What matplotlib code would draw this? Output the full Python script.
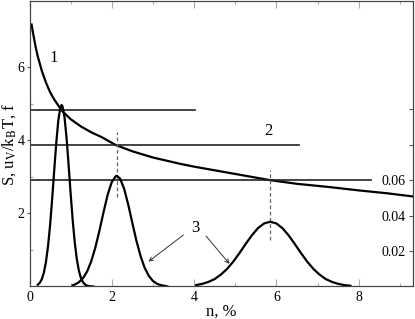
import numpy as np
import matplotlib
matplotlib.use('Agg')
import matplotlib.pyplot as plt
from matplotlib.ticker import FixedLocator

plt.rcParams['font.family'] = 'serif'
plt.rcParams['font.serif'] = ['Liberation Serif', 'DejaVu Serif']
plt.rcParams['mathtext.fontset'] = 'stix'

# curve 1: S(n)
s_n = [0.05, 0.1, 0.15, 0.2, 0.3, 0.4, 0.5, 0.6, 0.78, 1.0, 1.25, 1.5, 1.75,
       2.1, 2.5, 3.0, 3.65, 4.0, 4.7, 5.0, 5.85, 6.5, 7.3, 8.0, 8.7, 9.35]
s_val = [7.17, 6.85, 6.55, 6.30, 5.90, 5.58, 5.32, 5.12, 4.82, 4.58, 4.38, 4.22, 4.09,
         3.87, 3.70, 3.53, 3.36, 3.28, 3.14, 3.08, 2.91, 2.81, 2.72, 2.63, 2.55, 2.46]

# lines 2: u_V/k_BT levels and where they end
u_levels = [4.82, 3.87, 2.91]
u_ends = [4.02, 6.54, 8.29]

# dashed markers at the peaks
mark_n = [2.12, 5.85]
mark_lo = [2.46, 1.28]
mark_hi = [4.23, 3.18]

# curves 3: distributions f(n), right axis
f1_n = [0.20, 0.25, 0.30, 0.35, 0.40, 0.45, 0.50, 0.55, 0.60, 0.65, 0.70, 0.75, 0.78,
        0.80, 0.85, 0.90, 0.95, 1.00, 1.05, 1.10, 1.15, 1.20, 1.25, 1.30, 1.35, 1.40,
        1.45, 1.50, 1.55]
f1_val = [0.0010, 0.0021, 0.0042, 0.0079, 0.0139, 0.0227, 0.0346, 0.0493, 0.0654,
          0.0811, 0.0938, 0.1012, 0.1025, 0.1019, 0.0958, 0.0840, 0.0687, 0.0524,
          0.0373, 0.0248, 0.0154, 0.0089, 0.0048, 0.0024, 0.0011, 0.0005, 0.0002,
          0.0001, 0.0]

f2_n = [1.05, 1.10, 1.20, 1.30, 1.40, 1.50, 1.60, 1.70, 1.80, 1.90, 2.00, 2.10, 2.12,
        2.20, 2.30, 2.40, 2.50, 2.60, 2.70, 2.80, 2.90, 3.00, 3.10, 3.20, 3.30, 3.35]
f2_val = [0.0007, 0.0011, 0.0024, 0.0047, 0.0085, 0.0142, 0.0220, 0.0316, 0.0421,
          0.0519, 0.0591, 0.0624, 0.0625, 0.0610, 0.0552, 0.0462, 0.0358, 0.0257,
          0.0171, 0.0105, 0.0060, 0.0031, 0.0015, 0.0007, 0.0003, 0.0]

f3_n = [4.05, 4.20, 4.35, 4.50, 4.65, 4.80, 4.95, 5.10, 5.25, 5.40, 5.55, 5.70, 5.85,
        6.00, 6.15, 6.30, 6.45, 6.60, 6.75, 6.90, 7.05, 7.20, 7.35, 7.50, 7.65, 7.80]
f3_val = [0.0008, 0.0015, 0.0026, 0.0042, 0.0067, 0.0099, 0.0140, 0.0188, 0.0239,
          0.0288, 0.0329, 0.0356, 0.0366, 0.0356, 0.0329, 0.0288, 0.0239, 0.0188,
          0.0140, 0.0099, 0.0067, 0.0042, 0.0026, 0.0015, 0.0008, 0.0004]

fig = plt.figure(figsize=(4.15, 3.19), dpi=100)
ax = fig.add_axes([0.0711, 0.1019, 0.9241, 0.8934])
ax2 = ax.twinx()

ax.plot(s_n, s_val, color='black', lw=1.6)
for lev, end in zip(u_levels, u_ends):
    ax.plot([0, end], [lev, lev], color='#222222', lw=1.2)
for xn, lo, hi in zip(mark_n, mark_lo, mark_hi):
    ax.plot([xn, xn], [lo, hi], color='#666666', lw=0.9, dashes=(3, 2))

for fn, fv in [(f1_n, f1_val), (f2_n, f2_val), (f3_n, f3_val)]:
    ax2.plot(fn, fv, color='black', lw=1.6)

ax.text(0.58, 6.24, '1', fontsize=12, ha='center', va='center')
ax.text(5.80, 4.26, '2', fontsize=12, ha='center', va='center')
ax.text(4.02, 1.60, '3', fontsize=12, ha='center', va='center')
arr = dict(arrowstyle='->', color='#333333', lw=0.7, shrinkA=0, shrinkB=0,
           mutation_scale=7)
ax.annotate('', xy=(2.89, 0.68), xytext=(3.74, 1.41), arrowprops=arr)
ax.annotate('', xy=(4.86, 0.62), xytext=(4.29, 1.38), arrowprops=arr)

ax.set_xlim(0, 9.32)
ax.set_ylim(0, 7.8)
ax2.set_ylim(0, 0.161)

ax.set_xticks([0, 2, 4, 6, 8])
ax.set_xticks([1, 3, 5, 7, 9], minor=True)
ax.set_yticks([2, 4, 6])
ax.set_yticks([1, 3, 5, 7], minor=True)
ax.tick_params(axis='x', which='both', direction='in', top=True, color='#aaaaaa',
               labelsize=10, pad=3)
ax.tick_params(axis='x', which='major', length=5, width=0.8)
ax.tick_params(axis='x', which='minor', length=2.5, width=0.8)
ax.tick_params(axis='y', which='major', direction='out', length=2.5, width=0.8,
               labelsize=10, pad=1, color='#555555')
ax.tick_params(axis='y', which='minor', direction='in', length=2.5, width=0.8,
               color='#aaaaaa')

ax2.yaxis.set_major_locator(FixedLocator([0.02, 0.04, 0.06, 0.08, 0.10]))
ax2.set_yticklabels(['0.02', '0.04', '0.06', '', ''])
ax2.tick_params(axis='y', direction='in', length=3, width=0.8, color='#555555',
                labelsize=10, pad=-22.5)

for a in (ax, ax2):
    for sp in a.spines.values():
        sp.set_color('#444444')
        sp.set_linewidth(0.8)

ax.set_xlabel('n, %', fontsize=12, labelpad=0)
ax.set_ylabel(r'S, u$_\mathrm{V}$/k$_\mathrm{B}$T, f', fontsize=12, labelpad=0)

fig.savefig('out.png', dpi=100)
